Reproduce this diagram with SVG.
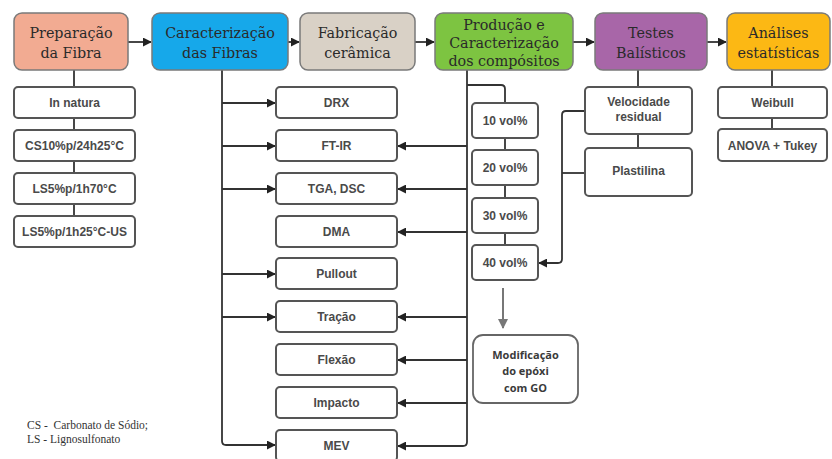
<svg xmlns="http://www.w3.org/2000/svg" width="832" height="459" viewBox="0 0 832 459">
  <style>
    .stage { stroke: #7a7a7a; stroke-width: 1.5; }
    .stage-text { font-family: "DejaVu Serif", "Liberation Serif", serif; font-size: 14.3px; fill: #2a2a2a; text-anchor: middle; }
    .item { fill: #ffffff; stroke: #555555; stroke-width: 2; }
    .item-text { font-family: "Liberation Sans", Arial, sans-serif; font-weight: bold; font-size: 12px; fill: #4a4a4a; text-anchor: middle; }
    .wire { fill: none; stroke: #333333; stroke-width: 1.8; }
    .wire-gray { fill: none; stroke: #777777; stroke-width: 2; }
    .note { font-family: "Liberation Serif", "DejaVu Serif", serif; font-size: 11.5px; fill: #333333; }
    .mod-text { font-family: "Open Sans", "Liberation Sans", sans-serif; font-weight: bold; font-size: 11px; fill: #3a3a3a; text-anchor: middle; }
  </style>
  <defs>
    <marker id="arrow" viewBox="0 0 10 10" refX="9" refY="5" markerWidth="5" markerHeight="5" orient="auto" markerUnits="strokeWidth">
      <path d="M0,0 L10,5 L0,10 z" fill="#222222"/>
    </marker>
    <marker id="arrow-gray" viewBox="0 0 10 10" refX="9" refY="5" markerWidth="5" markerHeight="5" orient="auto" markerUnits="strokeWidth">
      <path d="M0,0 L10,5 L0,10 z" fill="#777777"/>
    </marker>
  </defs>

  <rect width="832" height="459" fill="#ffffff"/>

  <!-- connectors -->
  <g id="connectors">
    <!-- main flow between stages -->
    <line class="wire" x1="128" y1="42" x2="151" y2="42" marker-end="url(#arrow)"/>
    <line class="wire" x1="288" y1="42" x2="299" y2="42" marker-end="url(#arrow)"/>
    <line class="wire" x1="415" y1="42" x2="434" y2="42" marker-end="url(#arrow)"/>
    <line class="wire" x1="573" y1="42" x2="594" y2="42" marker-end="url(#arrow)"/>
    <line class="wire" x1="707" y1="42" x2="726" y2="42" marker-end="url(#arrow)"/>

    <!-- fibre treatments chain -->
    <line class="wire" x1="74" y1="70" x2="74" y2="216"/>

    <!-- fibre characterisation bus -->
    <path class="wire" d="M222,70 V441 Q222,445 226,445 H275" marker-end="url(#arrow)"/>
    <line class="wire" x1="222" y1="103" x2="275" y2="103" marker-end="url(#arrow)"/>
    <line class="wire" x1="222" y1="146" x2="275" y2="146" marker-end="url(#arrow)"/>
    <line class="wire" x1="222" y1="189" x2="275" y2="189" marker-end="url(#arrow)"/>
    <line class="wire" x1="222" y1="274" x2="275" y2="274" marker-end="url(#arrow)"/>
    <line class="wire" x1="222" y1="317" x2="275" y2="317" marker-end="url(#arrow)"/>

    <!-- composite characterisation bus -->
    <path class="wire" d="M467,70 V442 Q467,446 463,446 H398" marker-end="url(#arrow)"/>
    <line class="wire" x1="467" y1="146" x2="398" y2="146" marker-end="url(#arrow)"/>
    <line class="wire" x1="467" y1="189" x2="398" y2="189" marker-end="url(#arrow)"/>
    <line class="wire" x1="467" y1="232" x2="398" y2="232" marker-end="url(#arrow)"/>
    <line class="wire" x1="467" y1="317" x2="398" y2="317" marker-end="url(#arrow)"/>
    <line class="wire" x1="467" y1="360" x2="398" y2="360" marker-end="url(#arrow)"/>
    <line class="wire" x1="467" y1="403" x2="398" y2="403" marker-end="url(#arrow)"/>

    <!-- fibre volume fractions -->
    <path class="wire" d="M467,85 H501 Q505,85 505,89 V103"/>
    <line class="wire" x1="505" y1="138" x2="505" y2="245"/>

    <!-- ballistic tests -->
    <line class="wire" x1="638" y1="70" x2="638" y2="148"/>
    <path class="wire" d="M585,111 H566 Q562,111 562,115 V259 Q562,263 558,263 H539" marker-end="url(#arrow)"/>
    <line class="wire" x1="585" y1="173" x2="562" y2="173"/>

    <!-- statistics -->
    <line class="wire" x1="772" y1="70" x2="772" y2="129"/>

    <!-- epoxy modification -->
    <line class="wire-gray" x1="503" y1="288" x2="503" y2="328" marker-end="url(#arrow-gray)"/>
  </g>

  <!-- stages -->
  <g id="prep">
    <rect class="stage" x="14" y="13" width="114" height="57" rx="8" fill="#F2AB92"/>
    <text class="stage-text" x="71" y="38">Preparação</text>
    <text class="stage-text" x="71" y="58">da Fibra</text>
  </g>
  <g id="carac-fibras">
    <rect class="stage" x="152" y="13" width="136" height="57" rx="8" fill="#16A8EA"/>
    <text class="stage-text" x="220" y="38">Caracterização</text>
    <text class="stage-text" x="220" y="58">das Fibras</text>
  </g>
  <g id="ceramica">
    <rect class="stage" x="300" y="13" width="115" height="57" rx="8" fill="#D9D1C6"/>
    <text class="stage-text" x="357.5" y="38">Fabricação</text>
    <text class="stage-text" x="357.5" y="58">cerâmica</text>
  </g>
  <g id="compositos">
    <rect class="stage" x="435" y="13" width="138" height="57" rx="8" fill="#7DC441"/>
    <text class="stage-text" x="504" y="30">Produção e</text>
    <text class="stage-text" x="504" y="48">Caracterização</text>
    <text class="stage-text" x="504" y="66">dos compósitos</text>
  </g>
  <g id="balisticos">
    <rect class="stage" x="595" y="13" width="112" height="57" rx="8" fill="#A866A8"/>
    <text class="stage-text" x="651" y="38">Testes</text>
    <text class="stage-text" x="651" y="58">Balísticos</text>
  </g>
  <g id="estatisticas">
    <rect class="stage" x="727" y="13" width="103" height="57" rx="8" fill="#FCB814"/>
    <text class="stage-text" x="778.5" y="38">Análises</text>
    <text class="stage-text" x="778.5" y="58">estatísticas</text>
  </g>

  <!-- fibre treatments -->
  <g id="in-natura">
    <rect class="item" x="14" y="87" width="121" height="31" rx="4"/>
    <text class="item-text" x="74.5" y="107">In natura</text>
  </g>
  <g id="cs10">
    <rect class="item" x="14" y="130" width="121" height="31" rx="4"/>
    <text class="item-text" x="74.5" y="150">CS10%p/24h25°C</text>
  </g>
  <g id="ls5-70">
    <rect class="item" x="14" y="173" width="121" height="31" rx="4"/>
    <text class="item-text" x="74.5" y="193">LS5%p/1h70°C</text>
  </g>
  <g id="ls5-us">
    <rect class="item" x="14" y="216" width="121" height="31" rx="4"/>
    <text class="item-text" x="74.5" y="236">LS5%p/1h25°C-US</text>
  </g>

  <!-- characterisation techniques -->
  <g id="drx">
    <rect class="item" x="276" y="87" width="121" height="31" rx="4"/>
    <text class="item-text" x="336.5" y="107">DRX</text>
  </g>
  <g id="ftir">
    <rect class="item" x="276" y="130" width="121" height="31" rx="4"/>
    <text class="item-text" x="336.5" y="150">FT-IR</text>
  </g>
  <g id="tga">
    <rect class="item" x="276" y="173" width="121" height="31" rx="4"/>
    <text class="item-text" x="336.5" y="193">TGA, DSC</text>
  </g>
  <g id="dma">
    <rect class="item" x="276" y="216" width="121" height="31" rx="4"/>
    <text class="item-text" x="336.5" y="236">DMA</text>
  </g>
  <g id="pullout">
    <rect class="item" x="276" y="258" width="121" height="31" rx="4"/>
    <text class="item-text" x="336.5" y="278">Pullout</text>
  </g>
  <g id="tracao">
    <rect class="item" x="276" y="301" width="121" height="31" rx="4"/>
    <text class="item-text" x="336.5" y="321">Tração</text>
  </g>
  <g id="flexao">
    <rect class="item" x="276" y="344" width="121" height="31" rx="4"/>
    <text class="item-text" x="336.5" y="364">Flexão</text>
  </g>
  <g id="impacto">
    <rect class="item" x="276" y="387" width="121" height="31" rx="4"/>
    <text class="item-text" x="336.5" y="407">Impacto</text>
  </g>
  <g id="mev">
    <rect class="item" x="276" y="430" width="121" height="31" rx="4"/>
    <text class="item-text" x="336.5" y="450">MEV</text>
  </g>

  <!-- volume fractions -->
  <g id="vol10">
    <rect class="item" x="472" y="103" width="66" height="35" rx="4"/>
    <text class="item-text" x="505" y="125">10 vol%</text>
  </g>
  <g id="vol20">
    <rect class="item" x="472" y="150" width="66" height="35" rx="4"/>
    <text class="item-text" x="505" y="172">20 vol%</text>
  </g>
  <g id="vol30">
    <rect class="item" x="472" y="198" width="66" height="35" rx="4"/>
    <text class="item-text" x="505" y="220">30 vol%</text>
  </g>
  <g id="vol40">
    <rect class="item" x="472" y="245" width="66" height="35" rx="4"/>
    <text class="item-text" x="505" y="267">40 vol%</text>
  </g>

  <g id="modificacao">
    <rect x="473" y="335" width="105" height="68" rx="10" fill="#ffffff" stroke="#666666" stroke-width="1.8"/>
    <text class="mod-text" x="525.5" y="359">Modificação</text>
    <text class="mod-text" x="525.5" y="375">do epóxi</text>
    <text class="mod-text" x="525.5" y="392">com GO</text>
  </g>

  <!-- ballistic measurements -->
  <g id="velocidade">
    <rect class="item" x="585" y="87" width="107" height="47" rx="4"/>
    <text class="item-text" x="638.5" y="106">Velocidade</text>
    <text class="item-text" x="638.5" y="121">residual</text>
  </g>
  <g id="plastilina">
    <rect class="item" x="585" y="148" width="107" height="48" rx="4"/>
    <text class="item-text" x="638.5" y="175">Plastilina</text>
  </g>

  <!-- statistical analyses -->
  <g id="weibull">
    <rect class="item" x="718" y="87" width="109" height="31" rx="4"/>
    <text class="item-text" x="772.5" y="107">Weibull</text>
  </g>
  <g id="anova">
    <rect class="item" x="718" y="129" width="109" height="32" rx="4"/>
    <text class="item-text" x="772.5" y="150">ANOVA + Tukey</text>
  </g>

  <!-- abbreviations -->
  <text class="note" x="27" y="429" xml:space="preserve">CS -  Carbonato de Sódio;</text>
  <text class="note" x="27" y="443">LS - Lignosulfonato</text>
</svg>
